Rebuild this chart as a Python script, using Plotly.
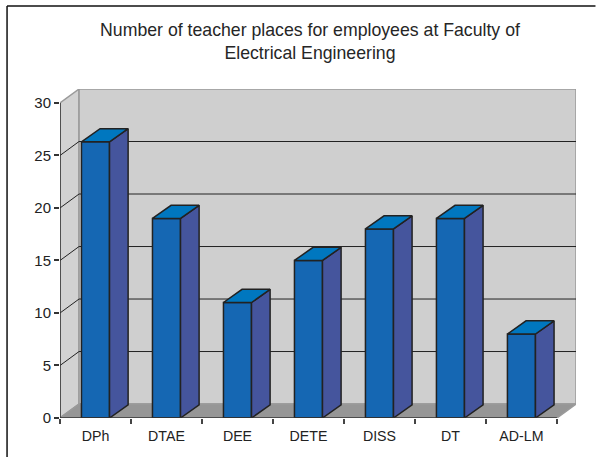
import plotly.graph_objects as go

categories = ["DPh", "DTAE", "DEE", "DETE", "DISS", "DT", "AD-LM"]
values = [26.3, 19.0, 11.0, 15.0, 18.0, 19.0, 8.0]
y_ticks = [0, 5, 10, 15, 20, 25, 30]
title_text = "Number of teacher places for employees at Faculty of<br>Electrical Engineering"

# 3-D look: depth of the box, in axis units
BOX_DX, BOX_DY = 0.2685, 1.33
BAR_DX, BAR_DY = 0.262, 1.25
BAR_W = 0.395
XL, XR = -0.5, len(categories) - 0.5
YT = y_ticks[-1]

C_FRONT, C_SIDE, C_TOP = "#1567b3", "#45559d", "#0077bf"
C_WALL, C_FLOOR, C_EDGE, C_DARK = "#cfcfcf", "#969696", "#9a9a9a", "#222222"


def path(pts):
    return "M " + " L ".join(f"{x} {y}" for x, y in pts) + " Z"


shapes = []
def poly(pts, fill, line=C_EDGE, w=1.5):
    shapes.append(dict(type="path", path=path(pts), xref="x", yref="y", layer="below",
                       fillcolor=fill, line=dict(color=line, width=w)))

poly([(XL, 0), (XL + BOX_DX, BOX_DY), (XL + BOX_DX, YT + BOX_DY), (XL, YT)], "#d2d2d2")
poly([(XL + BOX_DX, BOX_DY), (XR + BOX_DX, BOX_DY), (XR + BOX_DX, YT + BOX_DY), (XL + BOX_DX, YT + BOX_DY)], C_WALL)
poly([(XL, 0), (XR, 0), (XR + BOX_DX, BOX_DY), (XL + BOX_DX, BOX_DY)], C_FLOOR)
for v in y_ticks[1:-1]:
    shapes.append(dict(type="line", xref="x", yref="y", layer="below", x0=XL, y0=v, x1=XL + BOX_DX, y1=v + BOX_DY,
                       line=dict(color=C_DARK, width=1)))
    shapes.append(dict(type="line", xref="x", yref="y", layer="below", x0=XL + BOX_DX, y0=v + BOX_DY, x1=XR + BOX_DX, y1=v + BOX_DY,
                       line=dict(color=C_DARK, width=1)))

# page frame (left and top rules)
W, H, ML, MR, MT, MB = 596, 457, 60, 19.5, 89, 39
PW, PH = W - ML - MR, H - MT - MB
fx = lambda px: (px - ML) / PW
fy = lambda py: (H - MB - py) / PH
for x0, y0, x1, y1 in [(7, 6, 7, 457), (7, 6, 596, 6)]:
    shapes.append(dict(type="line", xref="paper", yref="paper", x0=fx(x0), y0=fy(y0), x1=fx(x1), y1=fy(y1),
                       line=dict(color="#111111", width=1.5)))

side_x, side_y, top_x, top_y = [], [], [], []
for i, v in enumerate(values):
    l, r = i - BAR_W / 2, i + BAR_W / 2
    side_x += [r, r + BAR_DX, r + BAR_DX, r, r, None]
    side_y += [0, BAR_DY, v + BAR_DY, v, 0, None]
    top_x += [l, l + BAR_DX, r + BAR_DX, r, l, None]
    top_y += [v, v + BAR_DY, v + BAR_DY, v, v, None]

line_style = dict(color=C_DARK, width=1.5)
fig = go.Figure()
fig.add_bar(x=list(range(len(categories))), y=values, width=BAR_W, marker=dict(color=C_FRONT, line=line_style))
fig.add_scatter(x=side_x, y=side_y, mode="lines", fill="toself", fillcolor=C_SIDE, line=line_style, cliponaxis=False)
fig.add_scatter(x=top_x, y=top_y, mode="lines", fill="toself", fillcolor=C_TOP, line=line_style, cliponaxis=False)
fig.add_scatter(x=[XL, XL, XR], y=[YT, 0, 0], mode="lines", line=dict(color="#333333", width=1.5), cliponaxis=False)

fig.update_layout(
    width=W, height=H, showlegend=False, paper_bgcolor="white", plot_bgcolor="rgba(0,0,0,0)",
    margin=dict(l=ML, r=MR, t=MT, b=MB, pad=0, autoexpand=False), shapes=shapes,
    font=dict(family="Liberation Sans, Arial, sans-serif", color="#222222", size=14.2),
    title=dict(text=title_text, x=310 / W, xanchor="center", y=1 - 36 / H, yanchor="top",
               font=dict(size=17.7, color="#262626")),
    xaxis=dict(range=[XL, XR + BOX_DX], tickmode="array", tickvals=list(range(len(categories))), ticktext=categories,
               automargin=False, ticks="outside", ticklen=5, tickcolor="rgba(0,0,0,0)", showgrid=False, zeroline=False, showline=False,
               minor=dict(tickmode="array", tickvals=[XL + i for i in range(len(categories) + 1)], ticks="outside",
                          ticklen=5, tickcolor="#444444", tickwidth=1.5, showgrid=False)),
    yaxis=dict(range=[0, YT + BOX_DY], tickmode="array", tickvals=y_ticks, ticks="outside", ticklen=5, automargin=False,
               tickcolor="#333333", tickwidth=1.5, showgrid=False, zeroline=False, showline=False,
               tickfont=dict(size=15)),
)
fig.write_html("out.html", config=dict(displayModeBar=False),
               post_script="document.body.style.margin='0';document.documentElement.style.overflow='hidden';")
